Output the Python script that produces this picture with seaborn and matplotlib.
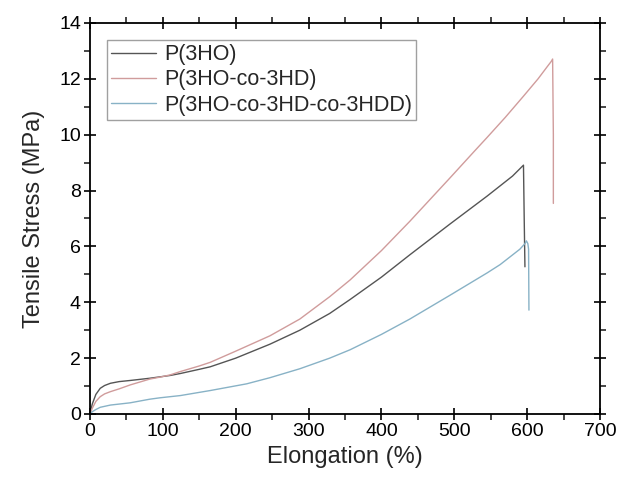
"""Tensile stress vs elongation curves for three PHA polymers."""
import matplotlib
matplotlib.use("Agg")
import matplotlib.pyplot as plt
import pandas as pd
import seaborn as sns
from matplotlib.ticker import MultipleLocator

SERIES_NAMES = ["P(3HO)", "P(3HO-co-3HD)", "P(3HO-co-3HD-co-3HDD)"]

P3HO_X = [0, 3, 8, 14, 20, 28, 40, 55, 82, 96, 110, 124, 150, 165, 200, 247, 288,
          329, 357, 400, 439, 494, 545, 563, 580, 590, 595, 596, 597]
P3HO_Y = [0, 0.35, 0.7, 0.92, 1.02, 1.1, 1.16, 1.2, 1.28, 1.33, 1.38, 1.45, 1.6, 1.69,
          2.0, 2.5, 3.0, 3.6, 4.1, 4.9, 5.7, 6.8, 7.8, 8.17, 8.52, 8.78, 8.91, 7.0, 5.27]

P3HD_X = [0, 3, 8, 14, 20, 28, 40, 55, 82, 96, 110, 124, 150, 165, 200, 247, 288,
          329, 357, 400, 439, 494, 528, 545, 570, 595, 615, 628, 633, 635, 636, 636]
P3HD_Y = [0, 0.2, 0.45, 0.62, 0.72, 0.8, 0.9, 1.04, 1.25, 1.32, 1.4, 1.52, 1.72, 1.85,
          2.25, 2.8, 3.4, 4.2, 4.8, 5.85, 6.9, 8.45, 9.42, 9.9, 10.62, 11.38, 12.0,
          12.45, 12.62, 12.71, 10.0, 7.54]

P3HDD_X = [0, 3, 8, 14, 28, 55, 82, 96, 124, 165, 215, 247, 288, 329, 357, 400, 439,
           494, 545, 563, 590, 597, 599, 601, 602, 602.5]
P3HDD_Y = [0, 0.08, 0.16, 0.24, 0.32, 0.4, 0.53, 0.58, 0.66, 0.84, 1.08, 1.3, 1.62, 2.0,
           2.3, 2.85, 3.4, 4.25, 5.05, 5.35, 5.9, 6.1, 6.2, 6.1, 5.9, 3.72]

X_TICKS = [0, 100, 200, 300, 400, 500, 600, 700]
Y_TICKS = [0, 2, 4, 6, 8, 10, 12, 14]

COLORS = ["#555555", "#d09c9c", "#88b2c6"]


def build_frame() -> pd.DataFrame:
    parts = []
    for name, xs, ys in zip(SERIES_NAMES,
                            [P3HO_X, P3HD_X, P3HDD_X],
                            [P3HO_Y, P3HD_Y, P3HDD_Y]):
        parts.append(pd.DataFrame({"elongation": xs, "stress": ys, "sample": name}))
    return pd.concat(parts, ignore_index=True)


def main():
    sns.set_style("ticks")
    plt.rcParams["font.family"] = ["Liberation Sans", "DejaVu Sans"]

    df = build_frame()
    fig = plt.figure(figsize=(6.17, 4.79), dpi=100)
    ax = fig.add_axes([0.1459, 0.1357, 0.8265, 0.8163])

    sns.lineplot(data=df, x="elongation", y="stress", hue="sample",
                 hue_order=SERIES_NAMES, palette=COLORS, sort=False,
                 estimator=None, units="sample", linewidth=1.0, ax=ax)

    ax.set_xlim(0, 700)
    ax.set_ylim(0, 14)
    ax.set_xticks(X_TICKS)
    ax.set_yticks(Y_TICKS)
    ax.xaxis.set_minor_locator(MultipleLocator(50))
    ax.yaxis.set_minor_locator(MultipleLocator(1))
    ax.tick_params(axis="both", which="major", direction="inout", length=9,
                   width=1.2, labelsize=14, colors="black", pad=2,
                   top=True, right=True)
    ax.tick_params(axis="both", which="minor", direction="out", length=4,
                   width=1.2, top=True, right=True)
    for side in ["left", "right", "top", "bottom"]:
        ax.spines[side].set_visible(True)
        ax.spines[side].set_linewidth(1.3)
        ax.spines[side].set_color("black")

    ax.set_xlabel("Elongation (%)", fontsize=17, labelpad=4)
    ax.set_ylabel("Tensile Stress (MPa)", fontsize=17, labelpad=10)

    leg = ax.legend(loc="upper left", bbox_to_anchor=(0.033, 0.957), fontsize=15.5,
                    frameon=True, fancybox=False, handlelength=2.1,
                    handletextpad=0.35, labelspacing=0.2, borderpad=0.2,
                    borderaxespad=0)
    leg.get_frame().set_edgecolor("#888888")
    leg.get_frame().set_linewidth(1.0)

    fig.savefig("out.png", dpi=100)
    plt.close(fig)


if __name__ == "__main__":
    main()
